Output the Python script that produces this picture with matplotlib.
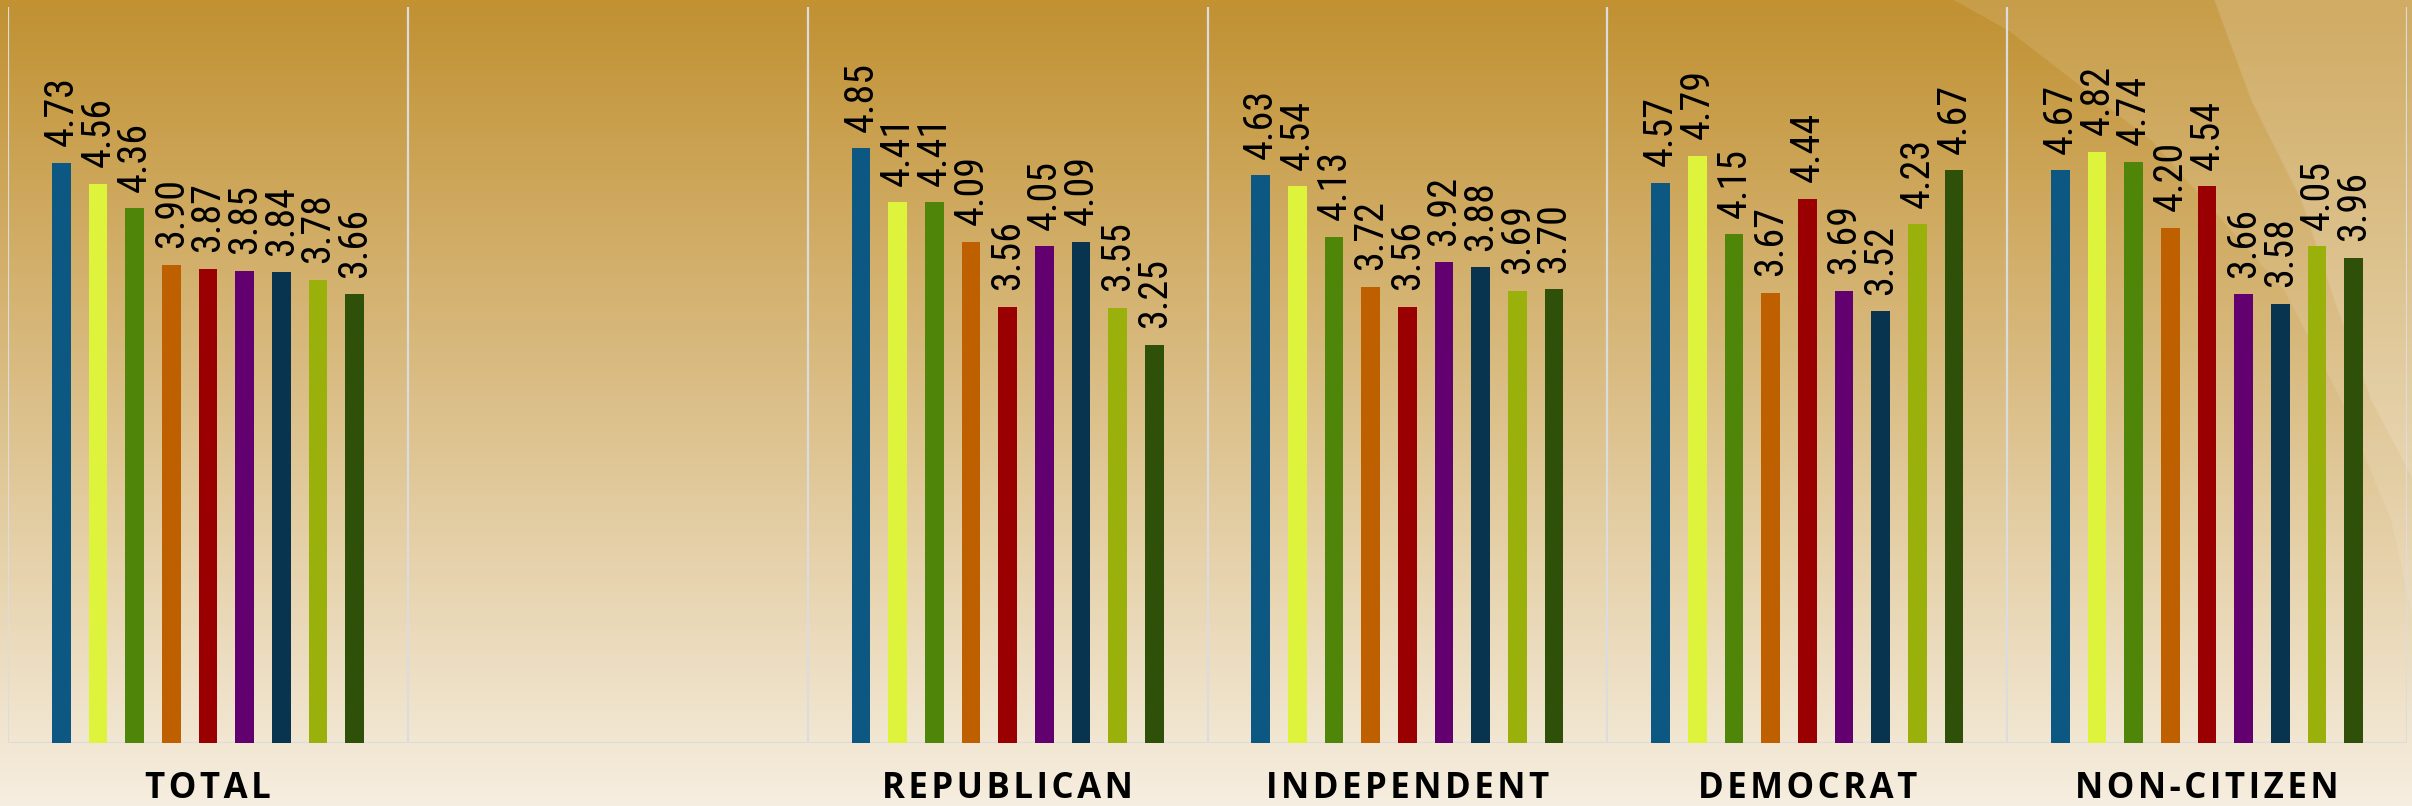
import matplotlib
matplotlib.use('Agg')
import matplotlib.pyplot as plt
import numpy as np

# Groups (second slot is an empty spacer group in the original chart)
groups = ['TOTAL', '', 'REPUBLICAN', 'INDEPENDENT', 'DEMOCRAT', 'NON-CITIZEN']

total = [4.73, 4.56, 4.36, 3.90, 3.87, 3.85, 3.84, 3.78, 3.66]
blank = []
republican = [4.85, 4.41, 4.41, 4.09, 3.56, 4.05, 4.09, 3.55, 3.25]
independent = [4.63, 4.54, 4.13, 3.72, 3.56, 3.92, 3.88, 3.69, 3.70]
democrat = [4.57, 4.79, 4.15, 3.67, 4.44, 3.69, 3.52, 4.23, 4.67]
non_citizen = [4.67, 4.82, 4.74, 4.20, 4.54, 3.66, 3.58, 4.05, 3.96]

series_by_group = [total, blank, republican, independent, democrat, non_citizen]

bar_colors = ['#0D5783', '#DEF43C', '#4F8508', '#BE5F00', '#9A0002',
              '#63006F', '#08344F', '#9AB00B', '#2F5008']

W, H = 2412, 806
value_family = ['Roboto Condensed', 'Open Sans', 'DejaVu Sans']

fig = plt.figure(figsize=(W / 100, H / 100), dpi=100)

# Background: vertical gold -> cream gradient with light swirls on the right
yy, xx = np.mgrid[0:H, 0:W].astype(float)
t = yy / (H - 1)
top = np.array([193, 145, 50]) / 255
bottom = np.array([246, 238, 224]) / 255
bg = top[None, None, :] * (1 - t[..., None]) + bottom[None, None, :] * t[..., None]

swirl1_y = [0, 30, 140, 290, 400, 520, 620]
swirl1_x = [1953, 2007, 2150, 2283, 2340, 2390, 2412]
swirl2_y = [0, 100, 200, 300, 400, 480]
swirl2_x = [2213, 2250, 2300, 2333, 2370, 2412]

edge1 = np.interp(yy, swirl1_y, swirl1_x)
edge2 = np.interp(yy, swirl2_y, swirl2_x)
m1 = np.clip((xx - edge1) / 2.0, 0, 1) * (yy < 620)
m2 = np.clip((xx - edge2) / 2.0, 0, 1) * (yy < 480)
light = 0.11 * m1 + 0.13 * m2
bg = bg + (1 - bg) * light[..., None]

ax_bg = fig.add_axes([0, 0, 1, 1], zorder=-1)
ax_bg.imshow(bg, aspect='auto', extent=[0, 1, 0, 1], origin='upper')
ax_bg.axis('off')

# Main axes
ax = fig.add_axes([8 / W, 63 / H, 2399 / W, 735.6 / H])
ax.set_facecolor('none')
ax.set_xlim(0, len(groups))
ax.set_ylim(0, 6)

# size the value labels so that "4.73" is about 70 px long, whatever face is found
renderer = fig.canvas.get_renderer()
probe = fig.text(0, 0, '4.73', fontsize=28, family=value_family)
probe_len = probe.get_window_extent(renderer).width
probe.remove()
value_size = 28 * 70.0 / probe_len

step = 0.0917
width = 0.047
for gi, values in enumerate(series_by_group):
    for j, v in enumerate(values):
        x = gi + 0.5 + (j - 4) * step
        ax.bar(x, v, width=width, color=bar_colors[j], zorder=3)
        ax.annotate(f'{v:.2f}', (x, v), xytext=(0, 12),
                    textcoords='offset points', rotation=90,
                    rotation_mode='anchor', ha='left', va='center',
                    fontsize=value_size, family=value_family,
                    color='black', zorder=4)

# Separators and baseline
for b in range(len(groups) + 1):
    ax.axvline(b, color='#DCDCDC', lw=1.6, zorder=2)
ax.axhline(0, color='#DCDCDC', lw=1.6, zorder=2)

for s in ax.spines.values():
    s.set_visible(False)
ax.set_yticks([])
ax.set_xticks(np.arange(len(groups)) + 0.5)
# letter-spaced group names
spaced = ['\u200a'.join(g) for g in groups]
ax.set_xticklabels(spaced, fontsize=25, fontweight='bold',
                   family=['Open Sans', 'DejaVu Sans'], color='black')
ax.tick_params(axis='x', length=0, pad=20)

fig.savefig('out.png', dpi=100)
